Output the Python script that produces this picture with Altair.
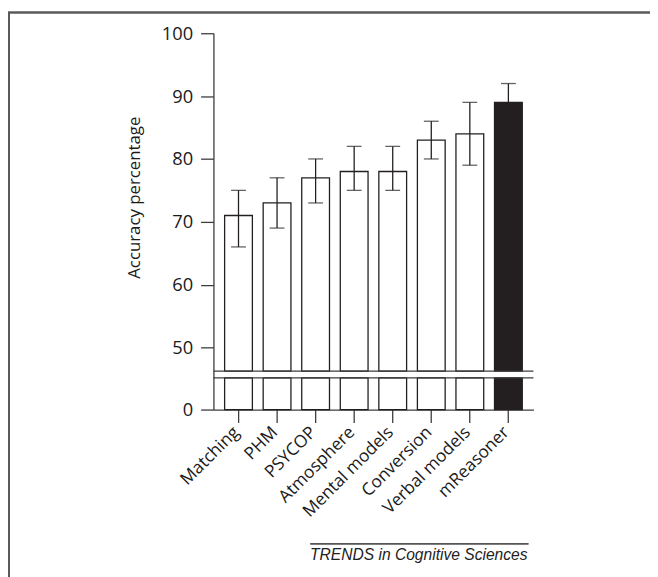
import altair as alt
import pandas as pd

models = ["Matching", "PHM", "PSYCOP", "Atmosphere", "Mental models",
          "Conversion", "Verbal models", "mReasoner"]
accuracy = [71, 73, 77, 78, 78, 83, 84, 89]
err_low = [66, 69, 73, 75, 75, 80, 79, 86]
err_high = [75, 77, 80, 82, 82, 86, 89, 92]
fills = ["#ffffff"] * 7 + ["#231f20"]

BREAK_LOW = 5.0
BREAK_HIGH = 46.25

df = pd.DataFrame({
    "model": models,
    "acc": accuracy,
    "lo": err_low,
    "hi": err_high,
    "fill": fills,
})

W, H = 324, 381
INK = "#231f20"
AX = "#3c3c3c"
FONT = "Open Sans"

xenc = alt.X("model:N", sort=models,
             scale=alt.Scale(paddingInner=0.28, paddingOuter=0.29),
             axis=alt.Axis(title=None, labelAngle=-45, labelAlign="right",
                           labelBaseline="middle", labelFontSize=17.5,
                           labelFont=FONT, labelColor="#1a1a1a",
                           labelPadding=7, labelOffset=-2, tickSize=13,
                           tickColor=AX, domainColor=AX, tickWidth=1.3,
                           domainWidth=1.3, labelOverlap=False))

yscale = alt.Scale(domain=[0, BREAK_LOW, BREAK_HIGH, 100],
                   range=[H, H - 32, H - 39, 0], nice=False, zero=False)

base = alt.Chart(df)

upper_bars = base.mark_bar(stroke=INK, strokeWidth=1.3).encode(
    x=xenc,
    y=alt.Y("acc:Q", scale=yscale,
            axis=alt.Axis(values=[0, 50, 60, 70, 80, 90, 100],
                          title="Accuracy percentage", titleFont=FONT,
                          titleFontSize=17, titleFontWeight="normal",
                          titleColor="#1a1a1a", titlePadding=18,
                          titleY=166,
                          labelFont=FONT, labelFontSize=18.5,
                          labelColor="#1a1a1a", labelPadding=8,
                          tickSize=13, tickColor=AX, tickWidth=1.3,
                          domainColor=AX, domainWidth=1.3, grid=False)),
    y2=alt.datum(BREAK_HIGH),
    fill=alt.Fill("fill:N", scale=None),
)

lower_bars = base.mark_bar(stroke=INK, strokeWidth=1.3).encode(
    x=alt.X("model:N", sort=models),
    y=alt.datum(0, scale=yscale),
    y2=alt.datum(BREAK_LOW),
    fill=alt.Fill("fill:N", scale=None),
)

err_rule = base.mark_rule(color=INK, strokeWidth=1.3).encode(
    x=alt.X("model:N", sort=models),
    y=alt.Y("lo:Q"),
    y2="hi:Q",
)
cap_lo = base.mark_tick(color=INK, thickness=1.3, size=15).encode(
    x=alt.X("model:N", sort=models), y=alt.Y("lo:Q"))
cap_hi = base.mark_tick(color=INK, thickness=1.3, size=15).encode(
    x=alt.X("model:N", sort=models), y=alt.Y("hi:Q"))

breaks = pd.DataFrame({"b": [BREAK_LOW, BREAK_HIGH]})
break_lines = alt.Chart(breaks).mark_rule(color=AX, strokeWidth=1.3).encode(
    x=alt.value(0), x2=alt.value("width"), y=alt.Y("b:Q"))

# figure frame (top and left edges of the panel)
frame_top = alt.Chart(breaks).mark_rule(color="#5a5a5a", strokeWidth=2).encode(
    x=alt.value(-208), x2=alt.value(450), y=alt.value(-21))
frame_left = alt.Chart(breaks).mark_rule(color="#5a5a5a", strokeWidth=2).encode(
    x=alt.value(-207), y=alt.value(-21), y2=alt.value(560))

credit_line = alt.Chart(breaks).mark_rule(color="#333333", strokeWidth=1).encode(
    x=alt.value(98), x2=alt.value(319), y=alt.value(517))
credit = alt.Chart(pd.DataFrame({"t": ["TRENDS in Cognitive Sciences"]})).mark_text(
    font="Liberation Sans", fontStyle="italic", fontSize=15.8, align="right",
    baseline="alphabetic", color="#222222").encode(
    text="t:N", x=alt.value(318), y=alt.value(533))

chart = alt.layer(
    upper_bars, lower_bars, err_rule, cap_lo, cap_hi, break_lines,
    frame_top, frame_left, credit_line, credit,
).properties(
    width=W, height=H,
    autosize=alt.AutoSizeParams(type="none"),
    padding={"left": 208, "top": 22, "right": 118, "bottom": 170},
).configure_view(stroke=None)

chart.save("out.html", embed_options={"renderer": "svg", "actions": False})
